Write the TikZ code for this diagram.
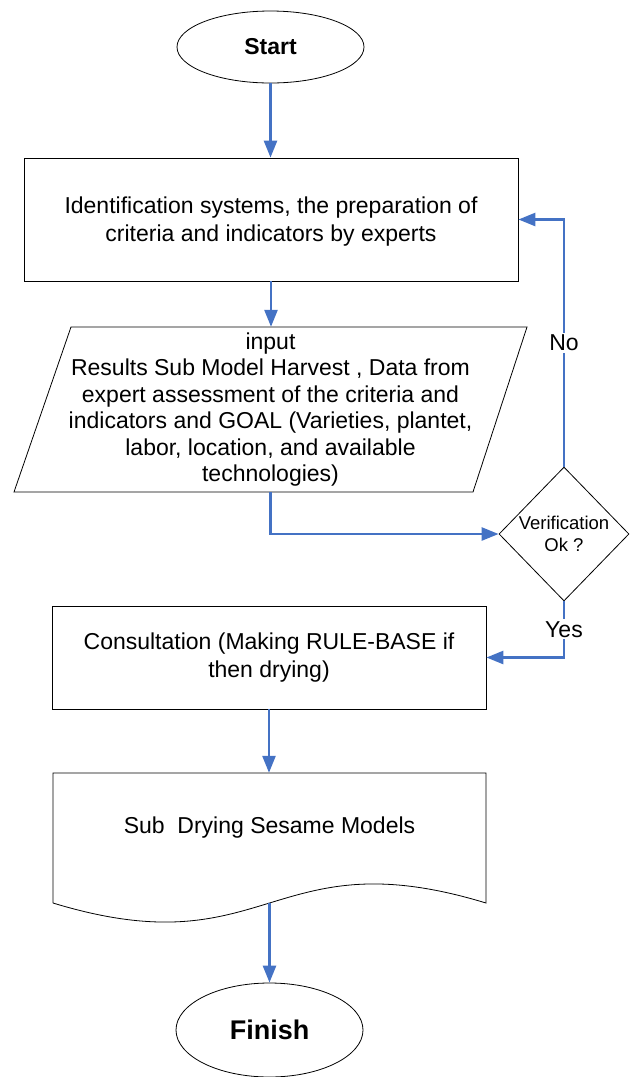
\documentclass[tikz,border=0pt]{standalone}
\usepackage{fontspec}
\setmainfont{Liberation Sans}
\usetikzlibrary{shapes.geometric,arrows.meta,calc}
\definecolor{flowblue}{HTML}{4472C4}
\begin{document}
\begin{tikzpicture}[x=1pt,y=-1pt,
  outline/.style={draw=black,line width=0.8pt},
  body/.style={font=\fontsize{23}{26.4}\selectfont,align=center},
  terminal/.style={outline,ellipse,inner sep=0pt,minimum width=187pt},
  processbox/.style={outline,rectangle,inner sep=0pt,font=\fontsize{23}{28}\selectfont,align=center},
  flow/.style={draw=flowblue,line width=2.6pt,-{Triangle[length=17pt,width=13pt]}},
  flowlabel/.style={fill=white,inner sep=2pt,font=\fontsize{23}{26}\selectfont}
]
\useasboundingbox (0,0) rectangle (635,1077);

% terminals
\node[terminal,minimum height=72pt,font=\bfseries\fontsize{23}{26}\selectfont] (start) at (270.5,47) {Start};
\node[terminal,minimum height=94pt,font=\bfseries\fontsize{27}{30}\selectfont] (finish) at (269.5,1030) {Finish};

% process boxes
\node[processbox,minimum width=494pt,minimum height=123pt] (box1) at (271,219.5) {};
\node[font=\fontsize{23}{28}\selectfont,align=center] (box1text) at (271,221.5)
  {Identification systems, the preparation of\\criteria and indicators by experts};
\node[processbox,minimum width=434pt,minimum height=103pt] (box2) at (269,657.5)
  {Consultation (Making RULE-BASE if\\then drying)};

% input / data parallelogram
\node[body,inner sep=0pt,minimum width=400pt,minimum height=165pt] (para) at (270.5,409.5)
  {input\\Results Sub Model Harvest , Data from\\expert assessment of the criteria and\\indicators and GOAL (Varieties, plantet,\\labor, location, and available\\technologies)};
\draw[outline] (71,327) -- (527,327) -- (473,492) -- (14,492) -- cycle;

% decision
\node[outline,diamond,inner sep=0pt,minimum width=130pt,minimum height=134pt,
      font=\fontsize{18.5}{22}\selectfont,align=center] (dia) at (564,534) {Verification\\Ok ?};

% document shape with wavy bottom
\node[inner sep=0pt,minimum width=433pt,minimum height=130pt] (doc) at (269.5,838) {};
\draw[outline] (53,903) -- (53,773) -- (486,773) -- (486,903)
  .. controls (269.5,837) and (269.5,969) .. (53,903);
\node[body] (doctext) at (269.5,828) {Sub\ \ Drying Sesame Models};
\coordinate (docout) at (269.5,903);

% connectors
\draw[flow] (start.south) -- (start.south |- box1.north);
\draw[flow] (box1.south) -- (box1.south |- para.north);
\draw[flow] (para.south) |- (dia.west);
\draw[flow] (dia.north) |- node[flowlabel,pos=0.25] {No} (box1.east);
\draw[flow] (dia.south) |- node[flowlabel,pos=0.25] {Yes} (box2.east);
\draw[flow] (box2.south) -- (box2.south |- doc.north);
\draw[flow] (docout) -- (docout |- finish.north);
\end{tikzpicture}
\end{document}
